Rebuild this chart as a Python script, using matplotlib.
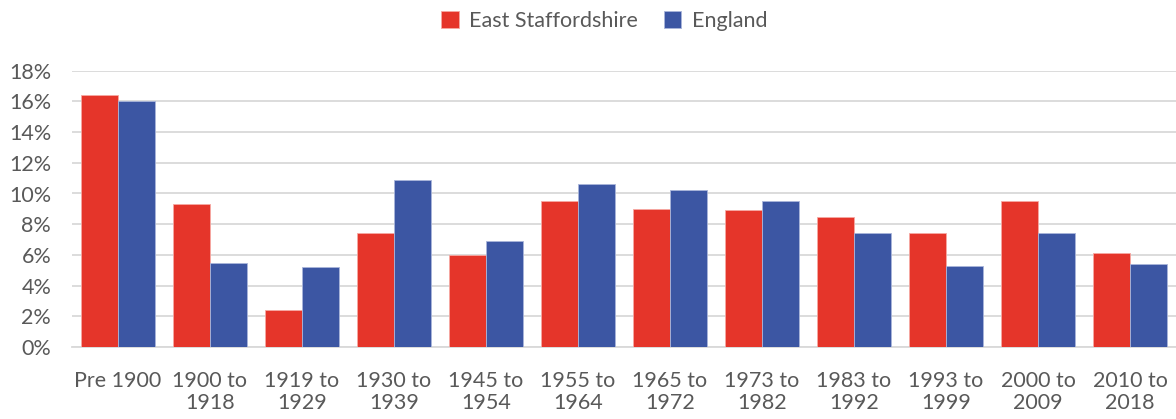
import matplotlib
matplotlib.use("Agg")
import matplotlib.pyplot as plt
import numpy as np
from matplotlib.ticker import FuncFormatter, MultipleLocator

categories = ["Pre 1900", "1900 to\n1918", "1919 to\n1929", "1930 to\n1939", "1945 to\n1954",
              "1955 to\n1964", "1965 to\n1972", "1973 to\n1982", "1983 to\n1992", "1993 to\n1999",
              "2000 to\n2009", "2010 to\n2018"]
east_staffs = [16.4, 9.3, 2.4, 7.4, 6.0, 9.5, 9.0, 8.9, 8.5, 7.4, 9.5, 6.1]
england = [16.0, 5.5, 5.2, 10.9, 6.9, 10.6, 10.2, 9.5, 7.4, 5.3, 7.4, 5.4]
series_names = ["East Staffordshire", "England"]

plt.rcParams['font.family'] = ['Lato', 'DejaVu Sans']
fig = plt.figure(figsize=(11.76, 4.19), dpi=100)
ax = fig.add_axes([72/1176, (419-347)/419, 1 - 72/1176, (347-70.7)/419])

x = np.arange(len(categories))
w = 0.4
ax.bar(x - w/2, east_staffs, w, color="#E5352A", edgecolor="#F6A9A3", linewidth=0.6, label=series_names[0], zorder=3)
ax.bar(x + w/2, england, w, color="#3C56A3", edgecolor="#A9B5DA", linewidth=0.6, label=series_names[1], zorder=3)

ax.set_xlim(-0.5, len(categories) - 0.5)
ax.set_ylim(0, 18)
ax.yaxis.set_major_locator(MultipleLocator(2))
ax.yaxis.set_major_formatter(FuncFormatter(lambda v, p: f"{v:.0f}%"))
ax.grid(axis="y", color="#D9D9D9", linewidth=1.3, zorder=0)
ax.set_axisbelow(True)
for s in ["top", "right", "left"]:
    ax.spines[s].set_visible(False)
ax.spines["bottom"].set_color("#D9D9D9")
ax.spines["bottom"].set_linewidth(1.3)
ax.set_xticks(x)
ax.set_xticklabels(categories)
ax.tick_params(axis="both", length=0, labelsize=15.5, colors="#595959")
ax.tick_params(axis="x", pad=17)
ax.tick_params(axis="y", pad=15)
for lab in ax.get_xticklabels():
    lab.set_linespacing(1.15)

fig.legend(loc="upper center", bbox_to_anchor=(0.514, 1.02), ncol=2, frameon=False,
           fontsize=15.5, labelcolor="#595959", handlelength=0.8, handleheight=0.8,
           handletextpad=0.5, columnspacing=1.2)

fig.savefig("out.png", dpi=100)
